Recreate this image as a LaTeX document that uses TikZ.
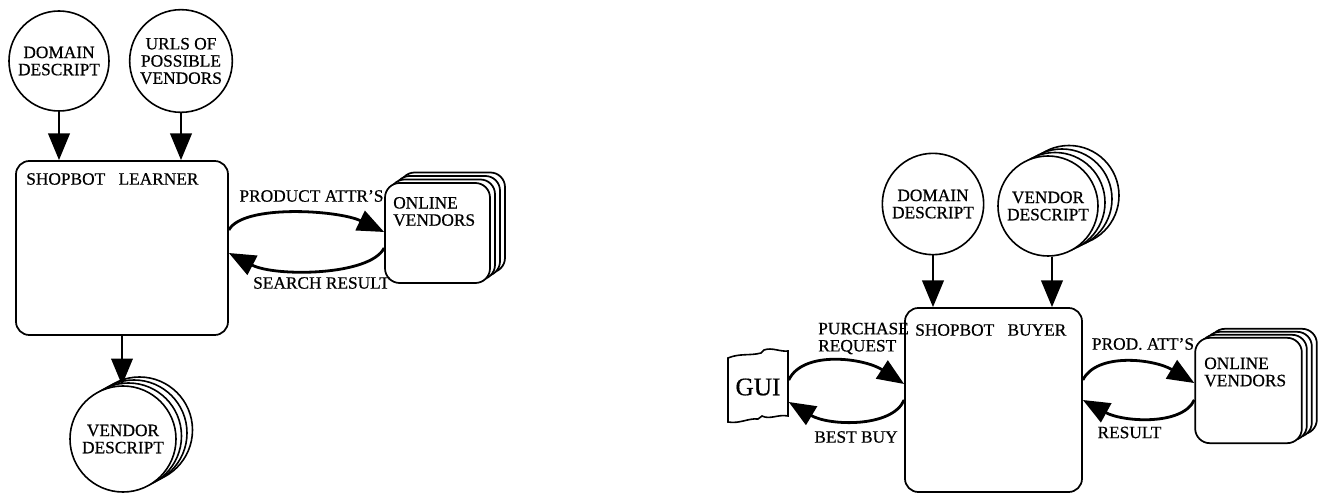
\documentclass[tikz,border=0pt]{standalone}
\usepackage{fontspec}
\setmainfont{Liberation Serif}[FakeBold=0.6]
\usetikzlibrary{arrows.meta}
\newcommand{\lbfont}{\fontsize{13pt}{12.9pt}\selectfont}
\newcommand{\guifont}{\fontsize{19pt}{19pt}\selectfont}
\begin{document}
\begin{tikzpicture}[x=0.75pt,y=0.75pt,
  shp/.style={draw, line width=1.2pt, fill=white, inner sep=0pt, font=\lbfont},
  circ/.style={shp, circle, align=center},
  rbox/.style={shp, rectangle, rounded corners=10pt, line width=1.3pt},
  vbox/.style={shp, rectangle, rounded corners=11pt, line width=1.3pt},
  arr/.style={line width=2.1pt, -{Triangle[length=20pt,width=16pt]}},
  lbl/.style={inner sep=0pt, font=\lbfont, align=left}]
\useasboundingbox (0,0) rectangle (1321,-495);

% ---------- left: learner ----------
\node[circ, minimum size=75pt] (dom1) at (59,-61) {DOMAIN\\DESCRIPT};
\node[circ, minimum size=77pt] (urls) at (181,-61) {URLS OF\\POSSIBLE\\VENDORS};
\node[rbox, minimum width=159pt, minimum height=130.5pt] (learner) at (122,-248) {};
\node[lbl, anchor=west] (learnerlbl) at (26,-179) {SHOPBOT\hspace{10pt}LEARNER};

% online vendors (stack)
\node[vbox, minimum width=78.75pt, minimum height=75pt] (ven1c) at (452.5,-222.5) {};
\node[vbox, minimum width=78.75pt, minimum height=75pt] (ven1b) at (447.5,-226) {};
\node[vbox, minimum width=78.75pt, minimum height=75pt] (ven1a) at (442.5,-229.5) {};
\node[vbox, minimum width=78.75pt, minimum height=75pt] (ven1) at (437.5,-233) {};
\node[lbl, anchor=west] (ven1lbl) at (393,-211.5) {ONLINE\\VENDORS};

% vendor descript (stack)
\node[circ, minimum size=79.5pt] (vd1c) at (139.5,-430) {};
\node[circ, minimum size=79.5pt] (vd1b) at (134,-433) {};
\node[circ, minimum size=79.5pt] (vd1a) at (128.5,-436) {};
\node[circ, minimum size=79.5pt] (vd1) at (123,-439) {VENDOR\\DESCRIPT};

\draw[arr] (dom1.south) -- (dom1.south |- learner.north);
\draw[arr] (urls.south) -- (urls.south |- learner.north);
\draw[arr] (learner.south) -- (learner.south |- vd1.north);
\draw[arr] ([yshift=13.5pt]learner.east) .. controls +(14,26) and +(-46,22) .. ([yshift=0.75pt]ven1.west);
\draw[arr] ([yshift=-11.25pt]ven1.west) .. controls +(-14,-28) and +(46,-24) .. ([yshift=-3.75pt]learner.east);
\node[lbl] (pa) at (311.5,-196) {PRODUCT ATTR'S};
\node[lbl] (sr) at (321.5,-283) {SEARCH RESULT};

% ---------- right: buyer ----------
\node[circ, minimum size=76pt] (dom2) at (933,-204) {DOMAIN\\DESCRIPT};
\node[circ, minimum size=75pt] (vd2c) at (1069,-195.5) {};
\node[circ, minimum size=75pt] (vd2b) at (1062,-199) {};
\node[circ, minimum size=75pt] (vd2a) at (1055,-202.5) {};
\node[circ, minimum size=75pt] (vd2) at (1048,-206) {VENDOR\\DESCRIPT};
\node[rbox, minimum width=132.75pt, minimum height=138pt] (buyer) at (993.5,-400) {};
\node[lbl, anchor=west] (buyerlbl) at (915,-330) {SHOPBOT\hspace{10pt}BUYER};

\node[vbox, minimum width=80pt, minimum height=79pt] (ven2c) at (1263.5,-381.5) {};
\node[vbox, minimum width=80pt, minimum height=79pt] (ven2b) at (1258.5,-384.5) {};
\node[vbox, minimum width=80pt, minimum height=79pt] (ven2a) at (1253.5,-387.5) {};
\node[vbox, minimum width=80pt, minimum height=79pt] (ven2) at (1248.5,-390.5) {};
\node[lbl, anchor=west] (ven2lbl) at (1204,-372) {ONLINE\\VENDORS};

% GUI torn sheet
\node[inner sep=0pt, minimum width=45.75pt, minimum height=48pt, font=\guifont] (gui) at (758,-387) {GUI};
\draw[line width=1.2pt] (728,-358) .. controls (740,-353) and (750,-356) .. (761,-353) -- (764,-350)
  .. controls (772,-347) and (780,-352) .. (788,-351) -- (788,-416)
  .. controls (778,-414) and (770,-420) .. (762,-416) -- (758,-419)
  .. controls (748,-418) and (740,-424) .. (728,-422) -- cycle;

\draw[arr] (dom2.south) -- (dom2.south |- buyer.north);
\draw[arr] ([xshift=3pt]vd2.south) -- ([xshift=3pt]vd2.south |- buyer.north);
\draw[arr] ([yshift=5.25pt]gui.east) .. controls +(14,30) and +(-40,26) .. ([yshift=12pt]buyer.west);
\draw[arr] (buyer.west) .. controls +(-12,-28) and +(40,-24) .. ([yshift=-11.25pt]gui.east);
\draw[arr] ([yshift=15pt]buyer.east) .. controls +(14,28) and +(-40,24) .. ([yshift=5.6pt]ven2.west);
\draw[arr] ([yshift=-7.1pt]ven2.west) .. controls +(-12,-26) and +(40,-22) .. (buyer.east);

\node[lbl, anchor=west] (pr) at (818,-338.5) {PURCHASE\\REQUEST};
\node[lbl] (bb) at (856,-437) {BEST BUY};
\node[lbl] (patt) at (1143,-344) {PROD. ATT'S};
\node[lbl] (res) at (1129.5,-432.5) {RESULT};
\end{tikzpicture}
\end{document}
